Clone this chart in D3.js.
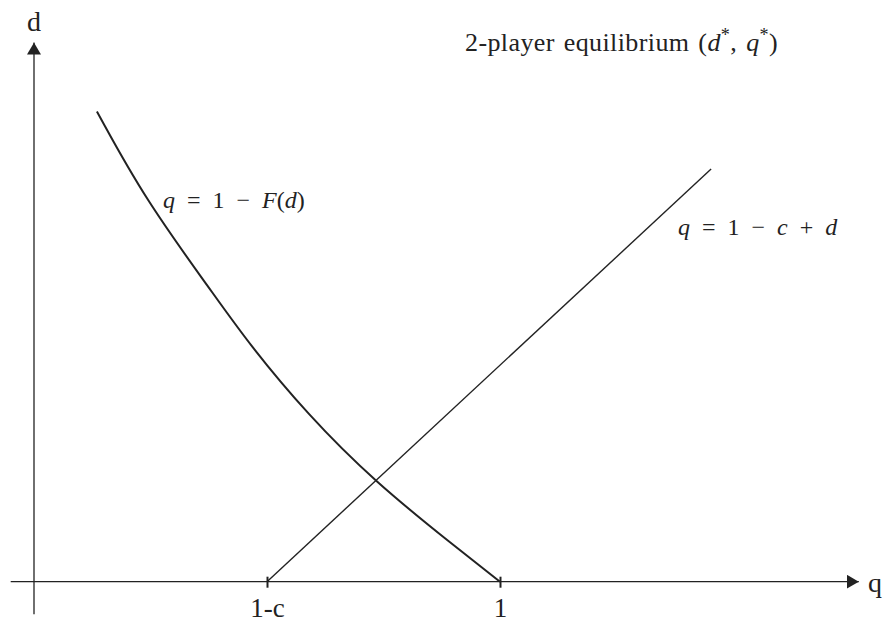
<!DOCTYPE html>
<html>
<head>
<meta charset="utf-8">
<script src="https://cdn.jsdelivr.net/npm/d3@7"></script>
<style>
  html, body { margin: 0; padding: 0; background: #fff; }
  svg { display: block; }
  svg text { font-family: "Liberation Serif", Tinos, "Times New Roman", "DejaVu Serif", "Noto Serif", serif; fill: #222; }
</style>
</head>
<body>
<svg id="chart" width="885" height="625"></svg>
<script>
// Cost parameter: the line q = 1 - c + d meets the q axis at 1 - c
const c = 0.5;

// Demand curve q = 1 - F(d), sampled as (q, d) pairs
const curveQ = [0.135, 0.239, 0.381, 0.460, 0.587, 0.732, 0.902, 1.0];
const curveD = [1.086, 0.882, 0.671, 0.551, 0.386, 0.230, 0.0825, 0.0];

// Supply line q = 1 - c + d, from the q axis up to its top end
const lineD = [0, 0.953];

// Marked positions on the q axis
const tickValues = [1 - c, 1];
const tickLabels = ["1-c", "1"];

// Axis extents (data units)
const qExtent = [-0.05, 1.77];
const dExtent = [-0.075, 1.245];

const svg = d3.select("#chart");
const ink = "#222";

const x = d3.scaleLinear().domain([0, 1]).range([34, 500]);
const y = d3.scaleLinear().domain([0, 1]).range([581.7, 148.7]);

// Arrowhead marker
svg.append("defs").append("marker")
  .attr("id", "arrow")
  .attr("viewBox", "0 0 12 14")
  .attr("refX", 12).attr("refY", 7)
  .attr("markerWidth", 12).attr("markerHeight", 14)
  .attr("markerUnits", "userSpaceOnUse")
  .attr("orient", "auto")
  .append("path")
  .attr("d", "M0,0 L12,7 L0,14 Z")
  .attr("fill", ink);

// q axis
svg.append("line")
  .attr("x1", x(qExtent[0])).attr("x2", x(qExtent[1]))
  .attr("y1", y(0)).attr("y2", y(0))
  .attr("stroke", ink).attr("stroke-width", 1.3)
  .attr("marker-end", "url(#arrow)");

// d axis
svg.append("line")
  .attr("x1", x(0)).attr("x2", x(0))
  .attr("y1", y(dExtent[0])).attr("y2", y(dExtent[1]))
  .attr("stroke", ink).attr("stroke-width", 1.3)
  .attr("marker-end", "url(#arrow)");

// Ticks and labels on the q axis
const axis = d3.axisBottom(x)
  .tickValues(tickValues)
  .tickFormat((d, i) => tickLabels[i])
  .tickSize(6);

const gAxis = svg.append("g")
  .attr("transform", `translate(0,${y(0)})`)
  .call(axis);
gAxis.select(".domain").remove();
gAxis.selectAll(".tick line")
  .attr("y1", -5).attr("y2", 6)
  .attr("stroke", ink).attr("stroke-width", 2);
gAxis.selectAll(".tick text")
  .attr("font-size", 27)
  .attr("fill", ink)
  .attr("y", 35)
  .attr("dy", null);

// Axis names
svg.append("text")
  .attr("x", x(0)).attr("y", 31)
  .attr("text-anchor", "middle")
  .attr("font-size", 28)
  .text("d");
svg.append("text")
  .attr("x", 868).attr("y", y(0) + 10)
  .attr("font-size", 28)
  .text("q");

// Demand curve
const pts = curveQ.map((q, i) => [q, curveD[i]]);
svg.append("path")
  .datum(pts)
  .attr("fill", "none")
  .attr("stroke", ink)
  .attr("stroke-width", 2)
  .attr("d", d3.line().x(d => x(d[0])).y(d => y(d[1])).curve(d3.curveBasis));

// Supply line
svg.append("path")
  .datum(lineD)
  .attr("fill", "none")
  .attr("stroke", ink)
  .attr("stroke-width", 1.4)
  .attr("d", d3.line().x(d => x(1 - c + d)).y(d => y(d)));

// Math-style labels
function mathLabel(px, py, size, parts, spacing) {
  const t = svg.append("text").attr("x", px).attr("y", py).attr("font-size", size)
    .attr("word-spacing", spacing || 0);
  parts.forEach(p => {
    const s = t.append("tspan").text(p.t);
    if (p.i) s.attr("font-style", "italic");
    if (p.sup) s.attr("dy", -10).attr("font-size", size * 0.7);
    if (p.down) s.attr("dy", 10);
  });
  return t;
}

mathLabel(465, 51, 26, [
  { t: "2-player equilibrium (" },
  { t: "d", i: true }, { t: "*", sup: true },
  { t: ", ", down: true },
  { t: "q", i: true }, { t: "*", sup: true },
  { t: ")", down: true }
], 2).attr("letter-spacing", 0.4);

mathLabel(163, 208, 24, [
  { t: "q", i: true }, { t: " = 1 \u2212 " }, { t: "F", i: true },
  { t: "(" }, { t: "d", i: true }, { t: ")" }
], 6);

mathLabel(678, 235, 24, [
  { t: "q", i: true }, { t: " = 1 \u2212 " }, { t: "c", i: true },
  { t: " + " }, { t: "d", i: true }
], 6);
</script>
</body>
</html>
